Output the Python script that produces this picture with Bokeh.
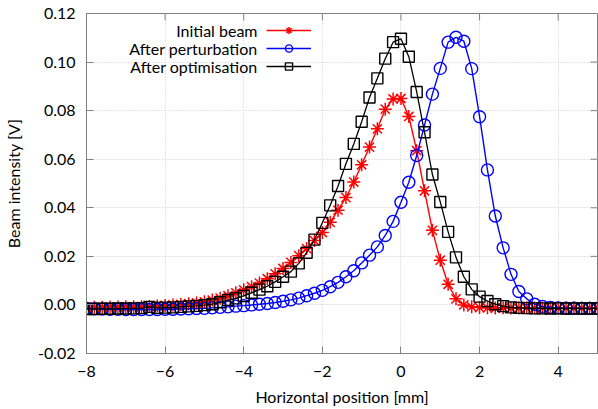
import math
from bokeh.plotting import figure
from bokeh.models import (Range1d, FixedTicker, NumeralTickFormatter, Legend, LegendItem,
                          Label, ColumnDataSource)
from bokeh.embed import file_html
from bokeh.resources import INLINE

# ---------------- data ----------------
x_mm = [-8.0, -7.8, -7.6, -7.4, -7.2, -7.0, -6.8, -6.6, -6.4, -6.2,
        -6.0, -5.8, -5.6, -5.4, -5.2, -5.0, -4.8, -4.6, -4.4, -4.2,
        -4.0, -3.8, -3.6, -3.4, -3.2, -3.0, -2.8, -2.6, -2.4, -2.2,
        -2.0, -1.8, -1.6, -1.4, -1.2, -1.0, -0.8, -0.6, -0.4, -0.2,
        0.0, 0.2, 0.4, 0.6, 0.8, 1.0, 1.2, 1.4, 1.6, 1.8,
        2.0, 2.2, 2.4, 2.6, 2.8, 3.0, 3.2, 3.4, 3.6, 3.8,
        4.0, 4.2, 4.4, 4.6, 4.8, 5.0]

initial_beam = [-0.0010, -0.0010, -0.0010, -0.0009, -0.0009, -0.0008, -0.0008, -0.0007, -0.0006, -0.0004,
                -0.0002, 0.0000, 0.0002, 0.0005, 0.0008, 0.0013, 0.0020, 0.0028, 0.0038, 0.0050,
                0.0062, 0.0075, 0.0090, 0.0108, 0.0128, 0.0150, 0.0175, 0.0203, 0.0232, 0.0265,
                0.0298, 0.0340, 0.0390, 0.0442, 0.0506, 0.0577, 0.0650, 0.0725, 0.0806, 0.0848,
                0.0850, 0.0776, 0.0635, 0.0470, 0.0307, 0.0184, 0.0085, 0.0025, 0.0000, -0.0008,
                -0.0011, -0.0012, -0.0013, -0.0012, -0.0013, -0.0013, -0.0012, -0.0013, -0.0013, -0.0012,
                -0.0013, -0.0013, -0.0012, -0.0013, -0.0013, -0.0013]

after_perturbation = [-0.0015, -0.0016, -0.0017, -0.0018, -0.0018, -0.0019, -0.0019, -0.0019, -0.0019, -0.0019,
                      -0.0018, -0.0018, -0.0017, -0.0016, -0.0015, -0.0014, -0.0012, -0.0010, -0.0008, -0.0005,
                      -0.0003, 0.0000, 0.0003, 0.0006, 0.0010, 0.0015, 0.0021, 0.0028, 0.0038, 0.0048,
                      0.0060, 0.0075, 0.0093, 0.0116, 0.0141, 0.0173, 0.0205, 0.0239, 0.0286, 0.0344,
                      0.0423, 0.0505, 0.0615, 0.0741, 0.0868, 0.0974, 0.1082, 0.1102, 0.1086, 0.0973,
                      0.0775, 0.0556, 0.0366, 0.0235, 0.0126, 0.0055, 0.0025, 0.0003, -0.0006, -0.0010,
                      -0.0012, -0.0013, -0.0013, -0.0014, -0.0014, -0.0014]

after_optimisation = [-0.0017, -0.0017, -0.0016, -0.0016, -0.0015, -0.0015, -0.0014, -0.0013, -0.0008, -0.0012,
                      -0.0011, -0.0010, -0.0008, -0.0006, -0.0004, -0.0001, 0.0003, 0.0011, 0.0020, 0.0027,
                      0.0037, 0.0050, 0.0063, 0.0077, 0.0095, 0.0116, 0.0137, 0.0171, 0.0215, 0.0269,
                      0.0338, 0.0410, 0.0490, 0.0581, 0.0663, 0.0754, 0.0854, 0.0933, 0.1014, 0.1082,
                      0.1096, 0.1022, 0.0877, 0.0711, 0.0537, 0.0424, 0.0301, 0.0196, 0.0116, 0.0064,
                      0.0034, 0.0016, 0.0003, -0.0005, -0.0010, -0.0012, -0.0013, -0.0014, -0.0014, -0.0015,
                      -0.0014, -0.0015, -0.0015, -0.0015, -0.0015, -0.0015]

series_names = ["Initial beam", "After perturbation", "After optimisation"]
x_ticks = [-8, -6, -4, -2, 0, 2, 4]
y_ticks = [-0.02, 0.0, 0.02, 0.04, 0.06, 0.08, 0.10, 0.12]
x_limits = (-8, 5)
y_limits = (-0.02, 0.12)

# ---------------- style ----------------
FONT = "Lato"
FS = "16px"
AXIS_GRAY = "#808080"

p = figure(width=598, height=409, output_backend="svg", toolbar_location=None,
           x_range=Range1d(*x_limits), y_range=Range1d(*y_limits),
           min_border_left=85, min_border_right=1, min_border_top=13, min_border_bottom=56)
p.background_fill_color = "white"
p.border_fill_color = "white"
p.outline_line_color = AXIS_GRAY
p.outline_line_width = 1

p.xaxis.ticker = FixedTicker(ticks=x_ticks)
p.yaxis.ticker = FixedTicker(ticks=y_ticks)
p.yaxis.formatter = NumeralTickFormatter(format="0.00")
for ax in (p.xaxis[0], p.yaxis[0]):
    ax.axis_line_color = AXIS_GRAY
    ax.major_tick_line_color = AXIS_GRAY
    ax.major_tick_in = 7
    ax.major_tick_out = 0
    ax.minor_tick_line_color = None
    ax.major_label_text_font = FONT
    ax.major_label_text_font_size = FS
    ax.major_label_text_color = "black"
    ax.axis_label_text_font = FONT
    ax.axis_label_text_font_size = FS
    ax.axis_label_text_font_style = "normal"
    ax.axis_label_text_color = "black"
p.xaxis.axis_label = "Horizontal position [mm]"
p.yaxis.axis_label = "Beam intensity [V]"
p.xaxis.major_label_standoff = 12
p.xaxis.axis_label_standoff = 7
p.yaxis.major_label_standoff = 11
p.yaxis.axis_label_standoff = 12

p.xgrid.ticker = FixedTicker(ticks=x_ticks)
p.ygrid.ticker = FixedTicker(ticks=y_ticks)
for g in (p.xgrid[0], p.ygrid[0]):
    g.grid_line_color = "#c8c8c8"
    g.grid_line_dash = "1 2"
    g.grid_line_width = 1

# mirrored inward ticks on the top and right borders
p.ray(x=x_ticks, y=[y_limits[1]] * len(x_ticks), length=7, length_units="screen",
      angle=-math.pi / 2, line_color=AXIS_GRAY, line_width=1)
p.ray(x=[x_limits[1]] * len(y_ticks), y=y_ticks, length=7, length_units="screen",
      angle=math.pi, line_color=AXIS_GRAY, line_width=1)

src = ColumnDataSource(dict(x=x_mm, a=initial_beam, b=after_perturbation, c=after_optimisation))

l1 = p.line("x", "a", source=src, line_color="#ff0000", line_width=1.4)
m1 = p.scatter("x", "a", source=src, marker="asterisk", size=13, line_color="#ff0000", line_width=1.5)
l2 = p.line("x", "b", source=src, line_color="#0000ff", line_width=1.4)
m2 = p.scatter("x", "b", source=src, marker="circle", size=12, line_color="#0000ff",
               fill_color=None, line_width=1.4)
l3 = p.line("x", "c", source=src, line_color="#000000", line_width=1.3)
m3 = p.scatter("x", "c", source=src, marker="square", size=11, line_color="#000000",
               fill_color=None, line_width=1.4)

legend = Legend(items=[LegendItem(label=" ", renderers=[l1, m1]),
                       LegendItem(label=" ", renderers=[l2, m2]),
                       LegendItem(label=" ", renderers=[l3, m3])],
                location=(180, 278), orientation="vertical",
                glyph_width=45, glyph_height=18, label_width=0, label_height=18,
                label_standoff=0, spacing=0, padding=0, margin=0,
                border_line_alpha=0, background_fill_alpha=0,
                label_text_font_size="1px")
p.add_layout(legend)

for i, name in enumerate(series_names):
    p.add_layout(Label(x=171, y=323 - 18 * i, x_units="screen", y_units="screen", text=name,
                       text_align="right", text_baseline="middle",
                       text_font=FONT, text_font_size=FS, text_color="black"))

open("out.html", "w").write(file_html(p, INLINE))
